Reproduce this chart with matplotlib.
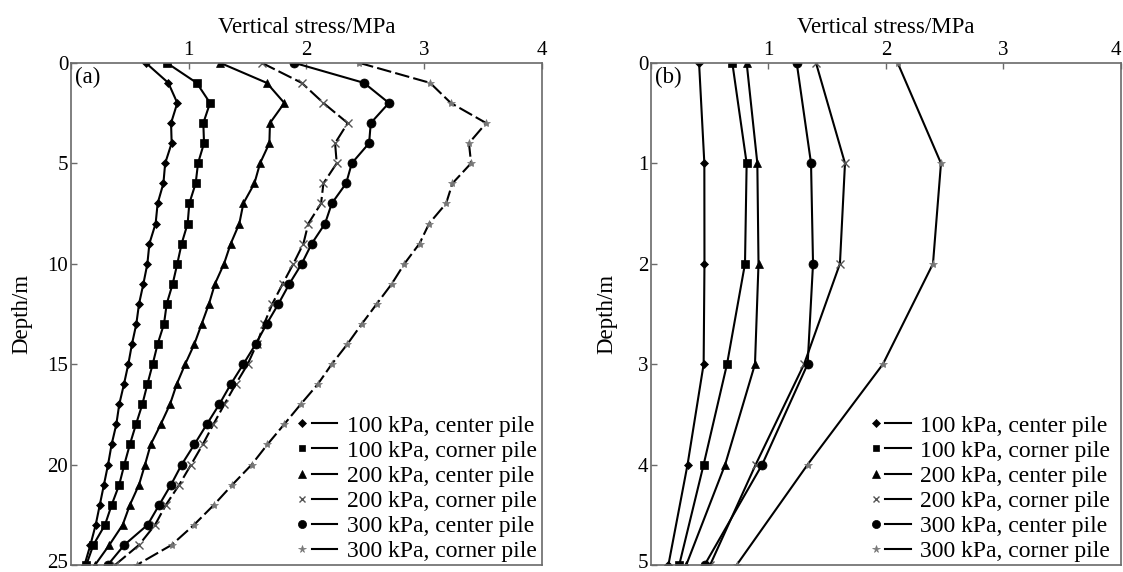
import matplotlib
matplotlib.use("Agg")
import matplotlib.pyplot as plt
from matplotlib.lines import Line2D
from matplotlib.legend_handler import HandlerBase
from matplotlib.transforms import ScaledTranslation

plt.rcParams["font.family"] = ["Liberation Serif", "DejaVu Serif"]

# ── Data ───────────────────────────────────────────────────────────
labels = ["100 kPa, center pile", "100 kPa, corner pile",
          "200 kPa, center pile", "200 kPa, corner pile",
          "300 kPa, center pile", "300 kPa, corner pile"]

depth_a = list(range(26))
a_c100 = [0.635, 0.827, 0.903, 0.85, 0.855, 0.80, 0.785, 0.736, 0.719, 0.666,
          0.649, 0.615, 0.578, 0.555, 0.518, 0.487, 0.45, 0.41, 0.385, 0.345,
          0.315, 0.28, 0.245, 0.21, 0.165, 0.115]
a_k100 = [0.813, 1.068, 1.181, 1.124, 1.13, 1.079, 1.059, 1.005, 0.991, 0.94,
          0.903, 0.864, 0.813, 0.79, 0.736, 0.694, 0.649, 0.606, 0.552, 0.50,
          0.453, 0.41, 0.346, 0.289, 0.19, 0.13]
a_c200 = [1.266, 1.663, 1.812, 1.69, 1.685, 1.606, 1.558, 1.464, 1.43, 1.357,
          1.30, 1.223, 1.172, 1.11, 1.048, 0.97, 0.898, 0.841, 0.762, 0.677,
          0.629, 0.578, 0.501, 0.439, 0.326, 0.204]
a_k200 = [1.62, 1.96, 2.144, 2.35, 2.243, 2.257, 2.144, 2.124, 2.016, 1.974,
          1.889, 1.798, 1.71, 1.64, 1.578, 1.501, 1.399, 1.303, 1.209, 1.119,
          1.02, 0.92, 0.807, 0.714, 0.578, 0.374]
a_c300 = [1.895, 2.489, 2.70, 2.546, 2.532, 2.385, 2.337, 2.215, 2.158, 2.045,
          1.96, 1.855, 1.762, 1.662, 1.569, 1.464, 1.357, 1.26, 1.153, 1.048,
          0.94, 0.85, 0.75, 0.651, 0.453, 0.312]
a_k300 = [2.447, 3.05, 3.226, 3.526, 3.38, 3.398, 3.24, 3.186, 3.042, 2.96,
          2.832, 2.725, 2.597, 2.47, 2.348, 2.215, 2.096, 1.951, 1.81, 1.668,
          1.535, 1.371, 1.215, 1.045, 0.855, 0.558]

depth_b = [0, 1, 2, 3, 4, 5]
b_c100 = [0.409, 0.454, 0.455, 0.448, 0.311, 0.148]
b_k100 = [0.692, 0.814, 0.80, 0.647, 0.448, 0.24]
b_c200 = [0.814, 0.905, 0.915, 0.885, 0.631, 0.30]
b_k200 = [1.404, 1.651, 1.608, 1.303, 0.891, 0.503]
b_c300 = [1.24, 1.362, 1.379, 1.333, 0.946, 0.456]
b_k300 = [2.099, 2.468, 2.40, 1.974, 1.333, 0.729]

# ── Styles ─────────────────────────────────────────────────────────
SPINE = "#6a6a6a"
styles = [
    dict(marker="D", ms=4.0, mfc="black", mec="black", mew=0.5),
    dict(marker="s", ms=5.5, mfc="black", mec="black", mew=0.5),
    dict(marker="^", ms=6.0, mfc="black", mec="black", mew=0.5),
    dict(marker="x", ms=5.5, mfc="#555555", mec="#555555", mew=1.0),
    dict(marker="o", ms=6.5, mfc="black", mec="black", mew=0.5),
    dict(marker="*", ms=6.0, mfc="#777777", mec="#777777", mew=0.5),
]


class MarkerThenLine(HandlerBase):
    """Legend key drawn as 'marker — line' side by side."""
    def create_artists(self, legend, orig_handle, xdescent, ydescent,
                       width, height, fontsize, trans):
        y = height / 2 - ydescent
        x0 = -xdescent
        mk = Line2D([x0 + 0.1 * width], [y], linestyle="none",
                    marker=orig_handle.get_marker(),
                    markersize=orig_handle.get_markersize() * 0.9,
                    markerfacecolor=orig_handle.get_markerfacecolor(),
                    markeredgecolor=orig_handle.get_markeredgecolor(),
                    markeredgewidth=orig_handle.get_markeredgewidth(),
                    transform=trans)
        ln = Line2D([x0 + 0.34 * width, x0 + width], [y, y],
                    color="black", lw=1.5, transform=trans)
        return [mk, ln]


def draw_panel(ax, depth, series, dashed, ylim, yticks, tag, leg_x):
    for i, (vals, st) in enumerate(zip(series, styles)):
        ls = (0, (7, 2)) if i in dashed else "-"
        ax.plot(vals, depth, color="black", lw=1.5, linestyle=ls,
                label=labels[i], **st)

    ax.set_xlim(0, 4)
    ax.set_ylim(ylim, 0)
    ax.set_xticks([0, 1, 2, 3, 4])
    ax.set_xticklabels(["", "1", "2", "3", "4"])
    ax.set_yticks(yticks)
    ax.xaxis.tick_top()
    ax.xaxis.set_label_position("top")
    ax.tick_params(direction="in", length=4, width=1, color=SPINE,
                   labelsize=15, pad=2, top=True, bottom=False,
                   left=True, right=False)
    for sp in ax.spines.values():
        sp.set_color(SPINE)
        sp.set_linewidth(1.2)

    ax.set_xlabel("Vertical stress/MPa", fontsize=16.5, labelpad=6)
    ax.set_ylabel("Depth/m", fontsize=16.5)
    ax.text(0.008, 0.992, tag, transform=ax.transAxes, fontsize=16.5,
            ha="left", va="top")

    leg_handles = [Line2D([], [], **st) for st in styles]
    ax.legend(leg_handles, labels, loc="lower right", fontsize=17,
              frameon=False, handlelength=1.65, handletextpad=0.4,
              labelspacing=0.15, borderaxespad=0, borderpad=0,
              bbox_to_anchor=(leg_x, 0.006),
              handler_map={Line2D: MarkerThenLine()})

    # lowest depth label sits on the figure edge, lift it a little
    low = ax.get_yticklabels()[-1]
    low.set_va("baseline")
    low.set_transform(low.get_transform()
                      + ScaledTranslation(0, -2 / 72, ax.figure.dpi_scale_trans))


fig = plt.figure(figsize=(11.23, 5.72), dpi=100)
ax_a = fig.add_axes([0.0632, 0.0122, 0.4194, 0.878])
ax_b = fig.add_axes([0.5797, 0.0122, 0.4185, 0.878])

draw_panel(ax_a, depth_a, [a_c100, a_k100, a_c200, a_k200, a_c300, a_k300],
           dashed={3, 5}, ylim=25, yticks=[0, 5, 10, 15, 20, 25], tag="(a)",
           leg_x=0.989)
draw_panel(ax_b, depth_b, [b_c100, b_k100, b_c200, b_k200, b_c300, b_k300],
           dashed=set(), ylim=5, yticks=[0, 1, 2, 3, 4, 5], tag="(b)",
           leg_x=0.977)

# the "4" of panel (b) touches the right edge of the figure
ax_b.get_xticklabels()[-1].set_ha("right")

ax_a.yaxis.set_label_coords(-0.083, 0.5)
ax_b.yaxis.set_label_coords(-0.072, 0.5)

fig.savefig("out.png", dpi=100)
